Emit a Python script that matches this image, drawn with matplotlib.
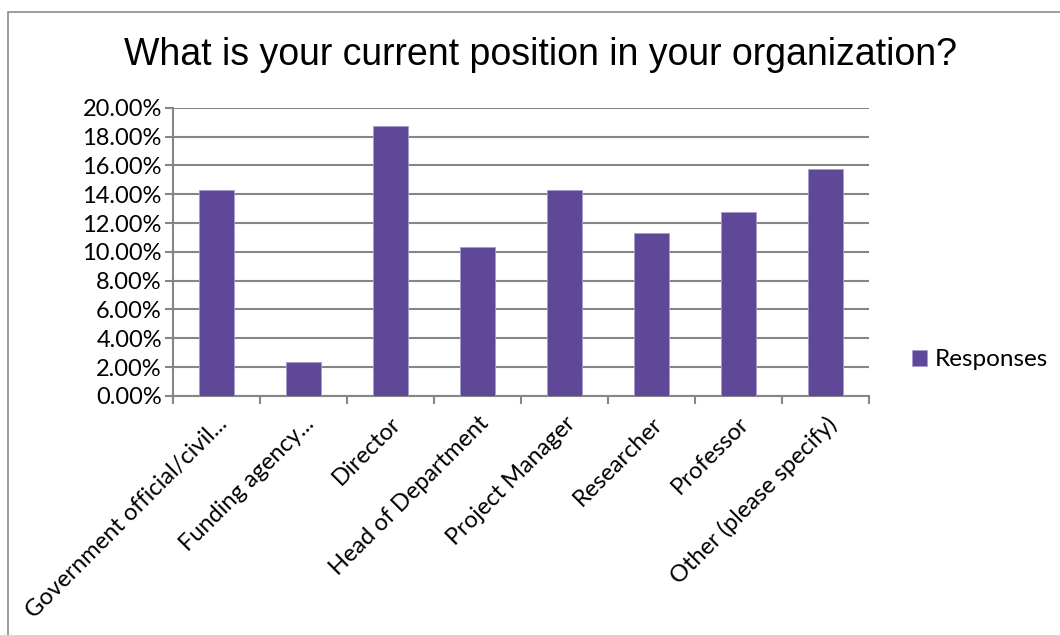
import matplotlib.pyplot as plt
import matplotlib.transforms as mtransforms
from matplotlib.ticker import FuncFormatter, FixedLocator
from matplotlib.patches import Rectangle

categories = [
    "Government official/civil...",
    "Funding agency...",
    "Director",
    "Head of Department",
    "Project Manager",
    "Researcher",
    "Professor",
    "Other (please specify)",
]
responses = [14.29, 2.38, 18.70, 10.31, 14.29, 11.28, 12.76, 15.72]

bar_color = "#5E4897"
grid_color = "#868686"

plt.rcParams['font.family'] = ['Lato', 'DejaVu Sans']

fig = plt.figure(figsize=(10.6, 6.35), dpi=100)
ax = fig.add_axes([0.1632, 0.3764, 0.6566, 0.454])

# outer chart border (only left and top edges fall inside the picture)
fig.patches.append(Rectangle((8 / 1060, -0.05), 1.2, 1.05 - 12 / 635,
                             transform=fig.transFigure, fill=False,
                             edgecolor="#8c8c8c", linewidth=1.2))

x = range(len(categories))
ax.bar(x, responses, width=0.4, color=bar_color, edgecolor="#a79bd0",
       linewidth=0.6, zorder=3, label="Responses")

ax.set_xlim(-0.5, len(categories) - 0.5)
ax.set_ylim(0, 20)
ax.set_yticks(range(0, 21, 2))
ax.yaxis.set_major_formatter(FuncFormatter(lambda v, p: f"{v:.2f}%"))
ax.grid(axis="y", color=grid_color, linewidth=1.5, zorder=0)

ax.set_xticks(list(x))
ax.set_xticklabels(categories, rotation=45, ha="right", rotation_mode="anchor",
                   fontsize=17)
shift = mtransforms.ScaledTranslation(6 / 100, 0, fig.dpi_scale_trans)
for lbl in ax.get_xticklabels():
    lbl.set_transform(lbl.get_transform() + shift)
ax.xaxis.set_minor_locator(FixedLocator([i - 0.5 for i in range(len(categories) + 1)]))
ax.tick_params(axis="x", which="major", length=0, pad=12)
ax.tick_params(axis="x", which="minor", length=6, width=1.5, color=grid_color)
ax.tick_params(axis="y", length=6, width=1.5, color=grid_color, labelsize=17, pad=2)

for s in ["top", "right"]:
    ax.spines[s].set_visible(False)
for s in ["left", "bottom"]:
    ax.spines[s].set_color(grid_color)
    ax.spines[s].set_linewidth(1.5)

fig.text(0.51, 0.913, "What is your current position in your organization?",
         ha="center", va="center", fontsize=27,
         family=['Liberation Sans', 'DejaVu Sans'])

ax.legend(loc="center left", bbox_to_anchor=(1.062, 0.125), frameon=False,
          fontsize=17.5, handlelength=0.6, handleheight=0.6, handletextpad=0.35,
          borderpad=0, borderaxespad=0)

fig.savefig("out.png", dpi=100)
